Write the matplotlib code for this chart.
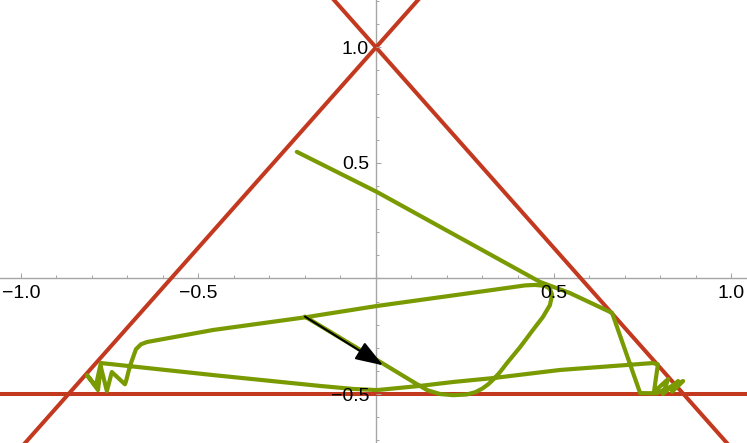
import numpy as np
import matplotlib
matplotlib.use("Agg")
import matplotlib.pyplot as plt
from matplotlib.patches import FancyArrowPatch
from matplotlib.ticker import MultipleLocator, FuncFormatter

# Boundary lines of the triangle: (slope, intercept)
wall_slopes = [np.sqrt(3), -np.sqrt(3), 0.0]
wall_intercepts = [1.0, 1.0, -0.5]

# Trajectory
traj_x = [-0.200, 0.031, 0.059, 0.087, 0.115, 0.144, 0.180, 0.217, 0.256, 0.280,
          0.300, 0.316, 0.332, 0.350, 0.369, 0.406, 0.442, 0.470, 0.490, 0.496,
          0.490, 0.476, 0.448, 0.420, 0.369, 0.003, -0.158, -0.194, -0.459, -0.645,
          -0.662, -0.676, -0.684, -0.693, -0.704, -0.707, -0.744, -0.758, -0.775, -0.783,
          -0.814, -0.789, -0.775, -0.459, -0.158, -0.065, 0.003, 0.124, 0.217, 0.330,
          0.518, 0.780, 0.794, 0.783, 0.823, 0.808, 0.851, 0.834, 0.865, 0.790,
          0.744, 0.665, 0.546, 0.462, 0.003, -0.223]
traj_y = [-0.165, -0.379, -0.405, -0.431, -0.457, -0.483, -0.500, -0.505, -0.502, -0.492,
          -0.476, -0.458, -0.435, -0.404, -0.366, -0.297, -0.223, -0.167, -0.115, -0.071,
          -0.045, -0.032, -0.028, -0.030, -0.041, -0.119, -0.158, -0.167, -0.223, -0.275,
          -0.285, -0.306, -0.340, -0.379, -0.444, -0.458, -0.405, -0.487, -0.383, -0.483,
          -0.418, -0.465, -0.366, -0.418, -0.465, -0.478, -0.483, -0.465, -0.448, -0.431,
          -0.396, -0.366, -0.372, -0.491, -0.435, -0.500, -0.444, -0.490, -0.444, -0.497,
          -0.496, -0.149, -0.063, -0.015, 0.374, 0.548]

# Initial velocity arrow: start and end
arrow_start = (-0.200, -0.165)
arrow_end = (0.020, -0.376)

x_limits = (-1.059, 1.045)
y_limits = (-0.712, 1.205)

RED = "#C3391F"
GREEN = "#7A9A01"
AXIS = "#A6A6A6"

plt.rcParams['font.family'] = ['Liberation Sans', 'DejaVu Sans']

fig = plt.figure(figsize=(7.47, 4.43), dpi=100)
ax = fig.add_axes([0, 0, 1, 1])
ax.set_xlim(*x_limits)
ax.set_ylim(*y_limits)

for s, b in zip(wall_slopes, wall_intercepts):
    ax.axline((0, b), slope=s, color=RED, lw=2.9, zorder=2)

ax.plot(traj_x, traj_y, color=GREEN, lw=3.0, solid_joinstyle='round',
        solid_capstyle='round', zorder=3)

arr = FancyArrowPatch(arrow_start, arrow_end,
                      arrowstyle='-|>,head_length=17,head_width=6',
                      mutation_scale=1, color='black', lw=1.5,
                      shrinkA=0, shrinkB=0, zorder=4)
ax.add_patch(arr)

# axes through origin
for side in ['top', 'right']:
    ax.spines[side].set_visible(False)
ax.spines['left'].set_position(('data', 0))
ax.spines['bottom'].set_position(('data', 0))
for side in ['left', 'bottom']:
    ax.spines[side].set_color(AXIS)
    ax.spines[side].set_linewidth(1.0)
    ax.spines[side].set_zorder(1)

ax.xaxis.set_major_locator(MultipleLocator(0.5))
ax.xaxis.set_minor_locator(MultipleLocator(0.1))
ax.yaxis.set_major_locator(MultipleLocator(0.5))
ax.yaxis.set_minor_locator(MultipleLocator(0.1))

def fmt(v, pos):
    if abs(v) < 1e-9:
        return ''
    return f"{v:.1f}".replace('-', '\u2212')

ax.xaxis.set_major_formatter(FuncFormatter(fmt))
ax.yaxis.set_major_formatter(FuncFormatter(fmt))

ax.tick_params(axis='both', which='major', direction='in', length=3.8, width=0.8,
               color=AXIS, labelsize=14, labelcolor='black')
ax.tick_params(axis='both', which='minor', direction='in', length=2.3, width=0.7,
               color=AXIS)
ax.tick_params(axis='x', which='major', pad=5)
ax.tick_params(axis='y', which='major', pad=5)
ax.xaxis.set_zorder(5)
ax.yaxis.set_zorder(5)

fig.savefig("out.png", dpi=100)
